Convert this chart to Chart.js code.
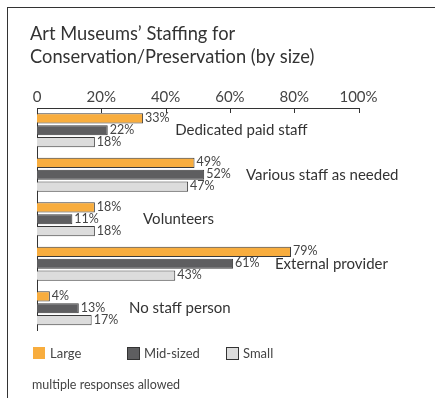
<!DOCTYPE html>
<html lang="en">
<head>
  <meta charset="UTF-8" />
  <title>Art Museums' Staffing for Conservation/Preservation</title>
  <script src="https://cdn.jsdelivr.net/npm/chart.js"></script>
  <style>
    html, body { margin: 0; padding: 0; background: #fff; }
    .frame { position: absolute; left: 7px; top: 7px; width: 440px; height: 400px;
             border-top: 1.5px solid #333; border-left: 1.5px solid #333; }
    canvas { position: absolute; left: 0; top: 0; }
  </style>
</head>
<body>
  <div class="frame"></div>
  <canvas id="staffChart" width="435" height="398"></canvas>

  <script>
    const categories = ['Dedicated paid staff', 'Various staff as needed', 'Volunteers', 'External provider', 'No staff person'];
    const seriesNames = ['Large', 'Mid-sized', 'Small'];
    const large = [33, 49, 18, 79, 4];
    const midSized = [22, 52, 11, 61, 13];
    const small = [18, 47, 18, 43, 17];
    const tickValues = [0, 20, 40, 60, 80, 100];

    const FONT = 'Lato, "Open Sans", sans-serif';
    const colors = ['#f8ad3e', '#5e5e60', '#dcdcdc'];

    // where each group's name sits along the axis (in % units)
    const namePos = [43, 65, 33, 74, 28.6];

    const overlay = {
      id: 'overlay',
      afterDraw(chart) {
        const ctx = chart.ctx;
        const x = chart.scales.x;
        const area = chart.chartArea;
        ctx.save();

        // tick marks hanging down from the top axis
        ctx.strokeStyle = '#333';
        ctx.lineWidth = 1;
        tickValues.forEach(v => {
          const px = Math.round(x.getPixelForValue(v)) + 0.5;
          ctx.beginPath();
          ctx.moveTo(px, area.top);
          ctx.lineTo(px, area.top + 5);
          ctx.stroke();
        });

        // value labels at bar ends
        ctx.font = '12.5px ' + FONT;
        ctx.fillStyle = '#444';
        ctx.textBaseline = 'middle';
        ctx.textAlign = 'left';
        chart.data.datasets.forEach((ds, i) => {
          chart.getDatasetMeta(i).data.forEach((bar, j) => {
            ctx.fillText(ds.data[j] + '%', bar.x + 2, bar.y - 0.5);
          });
        });

        // group names beside the middle bar
        ctx.font = '15px ' + FONT;
        ctx.fillStyle = '#333';
        const mid = chart.getDatasetMeta(1).data;
        categories.forEach((c, j) => {
          ctx.fillText(c, x.getPixelForValue(namePos[j]), mid[j].y);
        });

        // title
        ctx.font = '18.3px ' + FONT;
        ctx.textBaseline = 'alphabetic';
        ctx.fillText('Art Museums\u2019 Staffing for', 30, 40);
        ctx.fillText('Conservation/Preservation (by size)', 30, 63);

        // legend
        const legendX = [33, 127, 226];
        ctx.font = '13px ' + FONT;
        ctx.textBaseline = 'middle';
        chart.data.datasets.forEach((ds, i) => {
          ctx.fillStyle = ds.backgroundColor;
          ctx.fillRect(legendX[i], 347, 12, 12);
          if (i > 0) {
            ctx.strokeStyle = '#333';
            ctx.strokeRect(legendX[i] + 0.5, 347.5, 12, 12);
          }
          ctx.fillStyle = '#444';
          ctx.fillText(ds.label, legendX[i] + 17, 354);
        });

        // footnote
        ctx.font = '12.5px ' + FONT;
        ctx.fillText('multiple responses allowed', 32, 385);
        ctx.restore();
      }
    };

    new Chart(document.getElementById('staffChart'), {
      type: 'bar',
      data: {
        labels: categories,
        datasets: [
          { label: seriesNames[0], data: large, backgroundColor: colors[0] },
          { label: seriesNames[1], data: midSized, backgroundColor: colors[1] },
          { label: seriesNames[2], data: small, backgroundColor: colors[2] }
        ]
      },
      options: {
        indexAxis: 'y',
        responsive: false,
        animation: false,
        devicePixelRatio: 1,
        layout: { padding: { left: 37, top: 86, right: 76.5, bottom: 67.5 } },
        datasets: {
          bar: {
            categoryPercentage: 0.8,
            barPercentage: 0.85,
            borderWidth: 1,
            borderColor: '#3a3a3a'
          }
        },
        plugins: {
          legend: { display: false },
          title: { display: false },
          tooltip: { enabled: false }
        },
        scales: {
          x: {
            position: 'top',
            min: 0,
            max: 100,
            afterBuildTicks: s => { s.ticks = tickValues.map(v => ({ value: v })); },
            ticks: {
              padding: 2,
              color: '#444',
              font: { family: FONT, size: 15 },
              callback: v => v === 0 ? '0' : v + '%'
            },
            grid: { display: false, drawTicks: false },
            border: { display: true, color: '#333', width: 1 }
          },
          y: {
            ticks: { display: false },
            grid: { display: false, drawTicks: false },
            border: { display: true, color: '#333', width: 1 }
          }
        }
      },
      plugins: [overlay]
    });
  </script>
</body>
</html>
